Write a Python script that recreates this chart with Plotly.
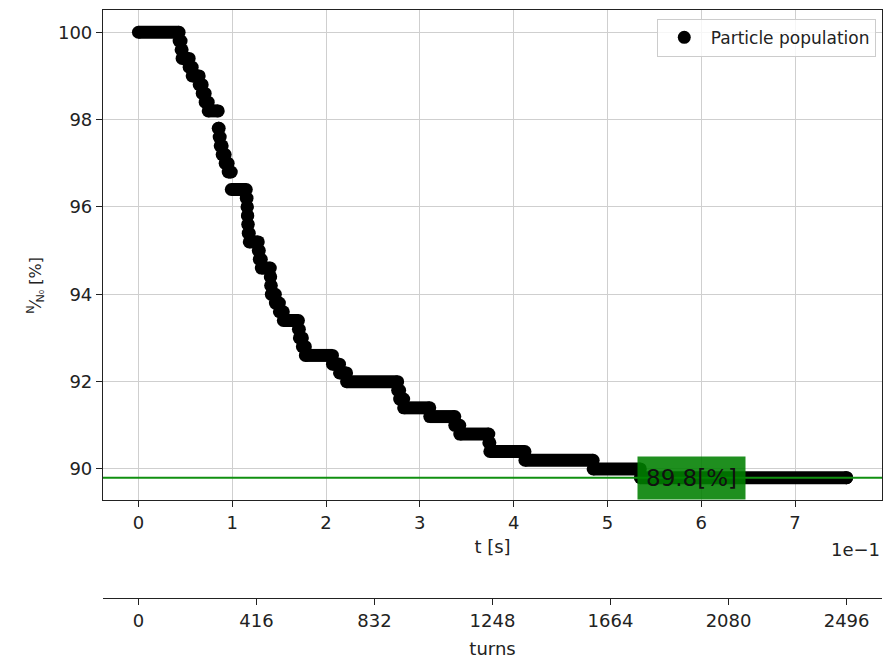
import plotly.graph_objects as go

# particle population: time [s] where each level starts, level [%]
t_s = [0.0, 0.0434, 0.0455, 0.0466, 0.0541, 0.0573, 0.0648, 0.0680, 0.0712, 0.0744,
       0.0851, 0.0861, 0.0872, 0.0893, 0.0925, 0.0957, 0.0990, 0.1150, 0.1158, 0.1162,
       0.1166, 0.1171, 0.1182, 0.1278, 0.1289, 0.1310, 0.1406, 0.1410, 0.1417, 0.1460,
       0.1503, 0.1545, 0.1706, 0.1716, 0.1748, 0.1780, 0.2069, 0.2144, 0.2219, 0.2764,
       0.2785, 0.2828, 0.3106, 0.3373, 0.3426, 0.3736, 0.3747, 0.4121, 0.4848, 0.5351,
       0.755]
pop_pct = [100.0, 99.8, 99.6, 99.4, 99.2, 99.0, 98.8, 98.6, 98.4, 98.2,
           97.8, 97.6, 97.4, 97.2, 97.0, 96.8, 96.4, 96.2, 96.0, 95.8,
           95.6, 95.4, 95.2, 95.0, 94.8, 94.6, 94.4, 94.2, 94.0, 93.8,
           93.6, 93.4, 93.2, 93.0, 92.8, 92.6, 92.4, 92.2, 92.0, 91.8,
           91.6, 91.4, 91.2, 91.0, 90.8, 90.6, 90.4, 90.2, 90.0, 89.8,
           89.8]

final_pct = 89.8
n_turns = 2496
t_end = 0.755
label_t = 0.59

t_ticks = [0.0, 0.1, 0.2, 0.3, 0.4, 0.5, 0.6, 0.7]
t_tick_text = ['0', '1', '2', '3', '4', '5', '6', '7']
y_ticks = [90, 92, 94, 96, 98, 100]
turn_ticks = [0, 416, 832, 1248, 1664, 2080, 2496]

# matplotlib-like 5% margins
x_range = [-0.05 * t_end, 1.05 * t_end]
y_pad = 0.05 * (max(pop_pct) - min(pop_pct))
y_range = [min(pop_pct) - y_pad, max(pop_pct) + y_pad]
turn_period = t_end / n_turns
turn_range = [x_range[0] / turn_period, x_range[1] / turn_period]

# each level is a flat run from its start to the next start; dots sit on both ends
seg_t, seg_p, dot_t, dot_p = [], [], [], []
for i in range(len(t_s) - 1):
    seg_t += [t_s[i], t_s[i + 1], None]
    seg_p += [pop_pct[i], pop_pct[i], None]
    dot_t += [t_s[i], t_s[i + 1]]
    dot_p += [pop_pct[i], pop_pct[i]]
dot_t.append(t_s[-1])
dot_p.append(pop_pct[-1])

font = dict(family='DejaVu Sans', size=18, color='#222')
axis_col = '#222'
grid_col = '#cfcfcf'

fig = go.Figure()

fig.add_trace(go.Scatter(
    x=seg_t, y=seg_p, mode='lines', connectgaps=False,
    line=dict(color='black', width=13),
    showlegend=False, hoverinfo='skip'
))
fig.add_trace(go.Scatter(
    x=dot_t, y=dot_p, mode='markers',
    marker=dict(color='black', size=13),
    name='Particle population'
))
# dummy trace so the turns axis gets drawn
fig.add_trace(go.Scatter(
    x=[0, n_turns], y=[final_pct, final_pct], xaxis='x2', yaxis='y',
    mode='markers', marker=dict(opacity=0), showlegend=False, hoverinfo='skip'
))

# final level line
fig.add_shape(type='line', xref='paper', yref='y', x0=0, x1=1,
              y0=final_pct, y1=final_pct, layer='above',
              line=dict(color='#109010', width=2))

fig.add_annotation(x=label_t, y=final_pct, xref='x', yref='y',
                   text=f'{final_pct}[%]', showarrow=False,
                   font=dict(family='DejaVu Sans', size=23, color='#111'),
                   bgcolor='rgba(0,128,0,0.88)', borderpad=8)

fig.add_annotation(x=1, y=0.083, xref='paper', yref='paper', xanchor='right',
                   yanchor='middle', text='1e\u22121', showarrow=False, font=font)

# y label as a rotated annotation
fig.add_annotation(x=-0.104, y=0.532, xref='paper', yref='paper', textangle=-90,
                   text='<sup>N</sup>\u2044<sub>N\u2080</sub> [%]', showarrow=False,
                   font=dict(family='DejaVu Sans', size=16, color='#222'))

fig.update_layout(
    width=896, height=663,
    paper_bgcolor='white', plot_bgcolor='white',
    margin=dict(l=95, r=22, t=2, b=73),
    font=font,
    showlegend=True,
    legend=dict(x=0.992, y=0.985, xanchor='right', yanchor='top',
                bgcolor='rgba(255,255,255,0.8)', bordercolor='#cccccc',
                borderwidth=1, itemwidth=43,
                font=dict(family='DejaVu Sans', size=17, color='#222')),
    xaxis=dict(
        domain=[0, 1], anchor='y', range=x_range,
        tickvals=t_ticks, ticktext=t_tick_text,
        ticks='outside', ticklen=6, tickcolor=axis_col,
        showline=True, linecolor=axis_col, linewidth=1.2, mirror=True,
        showgrid=True, gridcolor=grid_col, gridwidth=1, zeroline=False,
        automargin=False,
        title=dict(text='t [s]', standoff=8, font=dict(size=18))
    ),
    xaxis2=dict(
        overlaying='x', anchor='free', position=0, side='bottom',
        range=turn_range, tickvals=turn_ticks,
        ticks='outside', ticklen=6, tickcolor=axis_col,
        showline=True, linecolor=axis_col, linewidth=1.2,
        showgrid=False, zeroline=False, automargin=False,
        title=dict(text='turns', standoff=12, font=dict(size=18))
    ),
    yaxis=dict(
        domain=[0.1667, 1], range=y_range, tickvals=y_ticks,
        ticks='outside', ticklen=6, tickcolor=axis_col,
        showline=True, linecolor=axis_col, linewidth=1.2, mirror=True,
        showgrid=True, gridcolor=grid_col, gridwidth=1, zeroline=False,
        automargin=False
    )
)

fig.write_html('out.html')
